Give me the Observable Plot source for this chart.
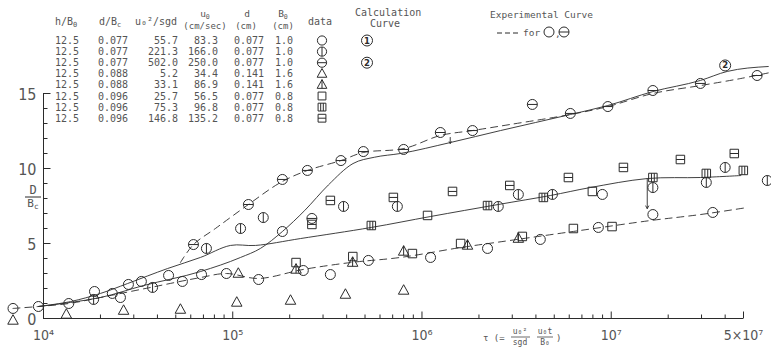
<!DOCTYPE html>
<html><head><meta charset="utf-8">
<script src="https://cdn.jsdelivr.net/npm/d3@7"></script>
<script src="https://cdn.jsdelivr.net/npm/@observablehq/plot@0.6"></script>
<style>body{margin:0;background:#fff} #chart{width:771px;height:348px}</style>
</head><body><div id="chart"></div>
<script>
// ---------- table ----------
const hB0 = ["12.5","12.5","12.5","12.5","12.5","12.5","12.5","12.5"];
const dBc = ["0.077","0.077","0.077","0.088","0.088","0.096","0.096","0.096"];
const u0sq = ["55.7","221.3","502.0","5.2","33.1","25.7","75.3","146.8"];
const u0 = ["83.3","166.0","250.0","34.4","86.9","56.5","96.8","135.2"];
const dcm = ["0.077","0.077","0.077","0.141","0.141","0.077","0.077","0.077"];
const B0 = ["1.0","1.0","1.0","1.6","1.6","0.8","0.8","0.8"];
const calcCol = ["1","","2","","","","",""];

// ---------- data points (tau, D/Bc) ----------
const circTau = [6.9e3,9.4e3,1.36e4,1.86e4,2.31e4,2.55e4,2.81e4,3.29e4,4.58e4,5.42e4,6.84e4,9.26e4,1.37e5,1.83e5,2.36e5,3.28e5,5.21e5,1.11e6,2.22e6,4.22e6,8.55e6,8.98e6,1.66e7,3.44e7];
const circD   = [0.67,0.8,1.0,1.8,1.67,1.4,2.27,2.47,2.87,2.47,2.93,3.0,2.6,5.8,3.2,2.93,3.87,4.07,4.67,5.27,6.07,8.27,6.93,7.07];
const cvTau = [1.84e4,3.77e4,7.26e4,1.10e5,1.45e5,3.85e5,7.41e5,2.53e6,3.23e6,4.89e6,1.66e7,3.18e7,4.0e7,6.68e7];
const cvD   = [1.27,2.07,4.67,6.0,6.73,7.47,7.47,7.47,8.27,8.27,8.73,9.07,10.07,9.2];
const chTau = [6.2e4,1.21e5,1.83e5,2.48e5,2.62e5,3.73e5,4.9e5,8.0e5,1.25e6,1.85e6,3.83e6,6.08e6,9.6e6,1.66e7,2.96e7,5.9e7];
const chD   = [4.93,7.6,9.27,9.87,6.67,10.53,11.13,11.27,12.4,12.53,14.27,13.67,14.13,15.2,15.67,16.2];
const triTau = [6.9e3,1.32e4,2.65e4,5.29e4,1.05e5,1.07e5,2.02e5,3.94e5,8.0e5];
const triD   = [-0.13,0.27,0.53,0.6,1.07,3.0,1.2,1.6,1.87];
const tribTau = [2.16e5,4.3e5,8.0e5,1.74e6,3.23e6];
const tribD   = [3.27,3.73,4.47,4.87,5.33];
const sqTau = [2.16e5,4.31e5,8.9e5,1.07e6,1.6e6,3.39e6,6.31e6,7.95e6,1.01e7];
const sqD   = [3.73,4.13,4.33,6.87,5.0,5.47,6.0,8.47,6.13];
const sqvTau = [5.4e5,2.22e6,4.38e6,1.66e7,3.18e7,4.99e7];
const sqvD   = [6.2,7.53,8.07,9.4,9.67,9.87];
const sqhTau = [2.62e5,3.28e5,7.06e5,1.45e6,2.91e6,5.94e6,1.16e7,2.32e7,4.47e7];
const sqhD   = [6.27,7.87,8.07,8.47,8.87,9.4,10.07,10.6,11.0];

// ---------- curves ----------
const calc1Tau = [9.4e3,1.39e4,2.0e4,2.78e4,4.52e4,6.75e4,9.72e4,1.32e5,2.28e5,5.4e5,1.11e6,2.53e6,4.77e6,7.75e6,1.55e7,2.96e7,4.84e7];
const calc1D   = [0.8,1.13,1.67,2.33,3.33,4.07,4.87,4.87,5.33,6.07,6.8,7.6,8.2,8.73,9.33,9.4,9.53];
const calc2Tau = [9.4e3,1.39e4,2.0e4,3.38e4,6.75e4,1.10e5,1.40e5,1.83e5,2.4e5,3.2e5,4.32e5,5.6e5,7.69e5,1.41e6,2.6e6,6.08e6,9.6e6,1.66e7,2.96e7,4.1e7,6.76e7];
const calc2D   = [0.8,1.07,1.4,2.2,3.13,4.07,4.67,5.8,7.2,8.9,10.33,10.75,11.0,11.73,12.53,13.6,14.2,15.13,15.87,16.47,16.8];
const expUTau = [5.29e4,6.2e4,8.1e4,1.21e5,1.79e5,2.48e5,3.73e5,4.9e5,8.03e5,1.25e6,1.85e6,2.91e6,6.08e6,9.6e6,1.66e7,2.96e7,4.84e7,6.93e7];
const expUD   = [3.73,4.93,6.0,7.6,9.07,9.87,10.53,11.07,11.33,12.2,12.53,12.93,13.6,14.13,15.0,15.53,16.0,16.4];
const expLTau = [6.9e3,9.4e3,1.36e4,2.0e4,3.68e4,6.75e4,9.26e4,1.37e5,2.36e5,4.19e5,7.69e5,1.6e6,2.91e6,6.87e6,1.61e7,2.96e7,5.24e7];
const expLD   = [0.67,0.8,1.0,1.4,2.07,2.73,3.0,2.67,3.27,3.73,4.07,4.73,5.2,5.87,6.53,6.93,7.4];

// arrows and curve marker
const arrowTau = [1.55e7, 1.41e6];
const arrowFrom = [9.33, 12.07];
const arrowTo = [7.33, 11.67];
const markTau = [4.0e7], markD = [16.87], markText = ["2"];

// axes
const xMajor = [1e4,1e5,1e6,1e7,5e7];
const xMajorText = ["10⁴","10⁵","10⁶","10⁷","5×10⁷"];
const xMinor = [2e4,3e4,4e4,5e4,6e4,7e4,8e4,9e4,2e5,3e5,4e5,5e5,6e5,7e5,8e5,9e5,2e6,3e6,4e6,5e6,6e6,7e6,8e6,9e6,2e7,3e7,4e7];
const yMajor = [0,5,10,15];
const yMinor = [1,2,3,4,6,7,8,9,11,12,13,14];

const pts = (t, d) => t.map((x, i) => ({x, y: d[i]}));
const ink = "#2b2b2b", txt = "#555";

// ---------- custom symbols ----------
const rad = s => Math.sqrt(s / Math.PI);
const circle = (c, r) => { c.moveTo(r, 0); c.arc(0, 0, r, 0, 2 * Math.PI); };
const tri = (c, r) => { c.moveTo(0, -r * 1.15); c.lineTo(r * 1.05, r * 0.75); c.lineTo(-r * 1.05, r * 0.75); c.closePath(); };
const sq = (c, h) => { c.rect(-h, -h, 2 * h, 2 * h); };
const symC = {draw(c, s) { circle(c, rad(s)); }};
const symCV = {draw(c, s) { const r = rad(s); circle(c, r); c.moveTo(0, -r); c.lineTo(0, r); }};
const symCH = {draw(c, s) { const r = rad(s); circle(c, r); c.moveTo(-r, 0); c.lineTo(r, 0); }};
const symT = {draw(c, s) { tri(c, rad(s)); }};
const symTB = {draw(c, s) { const r = rad(s); tri(c, r); c.moveTo(0, -r * 1.15); c.lineTo(0, r * 0.75); }};
const symS = {draw(c, s) { sq(c, rad(s) * 0.85); }};
const symSV = {draw(c, s) { const h = rad(s) * 0.85; sq(c, h); c.moveTo(-h / 3, -h); c.lineTo(-h / 3, h); c.moveTo(h / 3, -h); c.lineTo(h / 3, h); }};
const symSH = {draw(c, s) { const h = rad(s) * 0.85; sq(c, h); c.moveTo(-h, 0); c.lineTo(h, 0); }};
const tickUp = len => ({draw(c) { c.moveTo(0, 0); c.lineTo(0, -len); }});
const tickRight = len => ({draw(c) { c.moveTo(0, 0); c.lineTo(len, 0); }});

const series = [
  [circTau, circD, symC], [cvTau, cvD, symCV], [chTau, chD, symCH],
  [triTau, triD, symT], [tribTau, tribD, symTB], [sqTau, sqD, symS],
  [sqvTau, sqvD, symSV], [sqhTau, sqhD, symSH]
];
const tableSyms = [symC, symCV, symCH, symT, symTB, symS, symSV, symSH];

const numFont = "'Liberation Sans Narrow','DejaVu Sans Condensed','Liberation Sans',sans-serif";
const monoFont = "'DejaVu Sans Mono','Liberation Mono',monospace";
const lineOpts = {x: "x", y: "y", curve: "catmull-rom", stroke: ink, strokeWidth: 0.9};

const chart = Plot.plot({
  width: 771, height: 348,
  marginLeft: 43, marginRight: 28, marginTop: 93, marginBottom: 30,
  x: {type: "log", domain: [1e4, 5e7], axis: null},
  y: {domain: [0, 15], axis: null},
  style: {background: "white", overflow: "visible"},
  marks: [
    Plot.ruleY([0], {stroke: ink, strokeWidth: 1}),
    Plot.ruleX([1e4], {stroke: ink, strokeWidth: 1}),
    Plot.dot(xMinor, {x: d => d, y: () => 0, symbol: tickUp(4), stroke: ink, fill: "none", strokeWidth: 1}),
    Plot.dot(xMajor, {x: d => d, y: () => 0, symbol: tickUp(7), stroke: ink, fill: "none", strokeWidth: 1}),
    Plot.dot(yMinor, {x: () => 1e4, y: d => d, symbol: tickRight(4), stroke: ink, fill: "none", strokeWidth: 1}),
    Plot.dot(yMajor, {x: () => 1e4, y: d => d, symbol: tickRight(7), stroke: ink, fill: "none", strokeWidth: 1}),
    Plot.text(xMajor, {x: d => d, y: () => 0, text: (d, i) => xMajorText[i], dy: 17, fontSize: 14, fill: txt, fontFamily: numFont}),
    Plot.text(yMajor, {x: () => 1e4, y: d => d, text: d => String(d), textAnchor: "end", dx: -7, dy: 1, fontSize: 16, fill: txt, fontFamily: numFont}),
    Plot.line(pts(calc1Tau, calc1D), lineOpts),
    Plot.line(pts(calc2Tau, calc2D), {...lineOpts, curve: "monotone-x"}),
    Plot.line(pts(expUTau, expUD), {...lineOpts, strokeDasharray: "7,5"}),
    Plot.line(pts(expLTau, expLD), {...lineOpts, strokeDasharray: "7,5"}),
    Plot.arrow(arrowTau.map((t, i) => ({t, a: arrowFrom[i], b: arrowTo[i]})), {x1: "t", x2: "t", y1: "a", y2: "b", stroke: ink, strokeWidth: 0.9, headLength: 5}),
    ...series.map(([t, d, s]) => Plot.dot(pts(t, d), {x: "x", y: "y", symbol: s, r: 5, stroke: ink, fill: "none", strokeWidth: 1})),
    Plot.dot(pts(markTau, markD), {x: "x", y: "y", symbol: symC, r: 5.5, stroke: ink, fill: "white", strokeWidth: 1}),
    Plot.text(pts(markTau, markD), {x: "x", y: "y", text: (d, i) => markText[i], fontSize: 8.5, fontWeight: "bold", fill: ink, fontFamily: "'DejaVu Sans',sans-serif"})
  ]
});
document.getElementById("chart").append(chart);

// ---------- table, legend and axis titles as SVG text ----------
const svg = d3.select(chart);
const g = svg.append("g").attr("fill", txt).style("font-family", monoFont);
const mono = 10;
function t(x, y, str, anchor = "start", size = mono) {
  return g.append("text").attr("x", x).attr("y", y).attr("text-anchor", anchor).attr("font-size", size).text(str);
}
function tsub(x, y, main, sub, anchor = "start", size = mono, tail = "") {
  const e = g.append("text").attr("x", x).attr("y", y).attr("text-anchor", anchor).attr("font-size", size);
  e.append("tspan").text(main);
  e.append("tspan").attr("font-size", size * 0.7).attr("dy", 2).text(sub);
  if (tail) e.append("tspan").attr("dy", -2).text(tail);
  return e;
}
function circled(x, y, digit, r = 5.5) {
  g.append("circle").attr("cx", x).attr("cy", y).attr("r", r).attr("fill", "none").attr("stroke", ink);
  g.append("text").attr("x", x).attr("y", y + 3).attr("text-anchor", "middle").attr("font-size", 8.5)
    .attr("font-weight", "bold").attr("fill", ink).style("font-family", "'DejaVu Sans',sans-serif").text(digit);
}
// header
const hy = 25;
tsub(55, hy, "h/B", "0");
tsub(99, hy, "d/B", "c");
t(135, hy, "u₀²/sgd");
tsub(205, 17, "u", "0", "middle", 9.5);
t(205, 29, "(cm/sec)", "middle", 9);
t(247, 17, "d", "middle", 9.5);
t(246, 29, "(cm)", "middle", 9);
tsub(283, 17, "B", "0", "middle", 9.5);
t(283, 29, "(cm)", "middle", 9);
t(320, hy, "data", "middle");
t(355, 16, "Calculation");
t(385, 27, "Curve", "middle");
t(490, 18, "Experimental Curve", "start", 9.5);
// table rows
const ry = i => 44 + i * 11.1;
hB0.forEach((v, i) => {
  t(79, ry(i), v, "end");
  t(128, ry(i), dBc[i], "end");
  t(178, ry(i), u0sq[i], "end");
  t(218, ry(i), u0[i], "end");
  t(264, ry(i), dcm[i], "end");
  t(293, ry(i), B0[i], "end");
  g.append("path").attr("transform", `translate(322,${ry(i) - 3.5})`)
    .attr("d", d3.symbol(tableSyms[i], Math.PI * 4.6 * 4.6)()).attr("fill", "none").attr("stroke", ink);
  if (calcCol[i]) circled(367, ry(i) - 3.5, calcCol[i]);
});
// experimental legend
g.append("line").attr("x1", 497).attr("x2", 519).attr("y1", 33).attr("y2", 33).attr("stroke", ink).attr("stroke-dasharray", "5,3");
t(523, 36, "for", "start", 9.5);
g.append("path").attr("transform", "translate(549,32)").attr("d", d3.symbol(symC, Math.PI * 25)()).attr("fill", "none").attr("stroke", ink);
t(555, 37, ",", "start", 9.5);
g.append("path").attr("transform", "translate(564,32)").attr("d", d3.symbol(symCH, Math.PI * 25)()).attr("fill", "none").attr("stroke", ink);
// y title D/Bc
t(33, 194, "D", "middle", 12);
g.append("line").attr("x1", 25).attr("x2", 41).attr("y1", 197).attr("y2", 197).attr("stroke", ink);
tsub(33, 207, "B", "c", "middle", 11);
// x title
t(483, 341, "τ (=", "start", 9);
t(520, 334, "u₀²", "middle", 8);
g.append("line").attr("x1", 511).attr("x2", 530).attr("y1", 337).attr("y2", 337).attr("stroke", ink).attr("stroke-width", 0.7);
t(520, 345, "sgd", "middle", 8);
t(545, 334, "u₀t", "middle", 8);
g.append("line").attr("x1", 537).attr("x2", 553).attr("y1", 337).attr("y2", 337).attr("stroke", ink).attr("stroke-width", 0.7);
t(545, 345, "B₀", "middle", 8);
t(556, 341, ")", "start", 9);
</script>
</body></html>
